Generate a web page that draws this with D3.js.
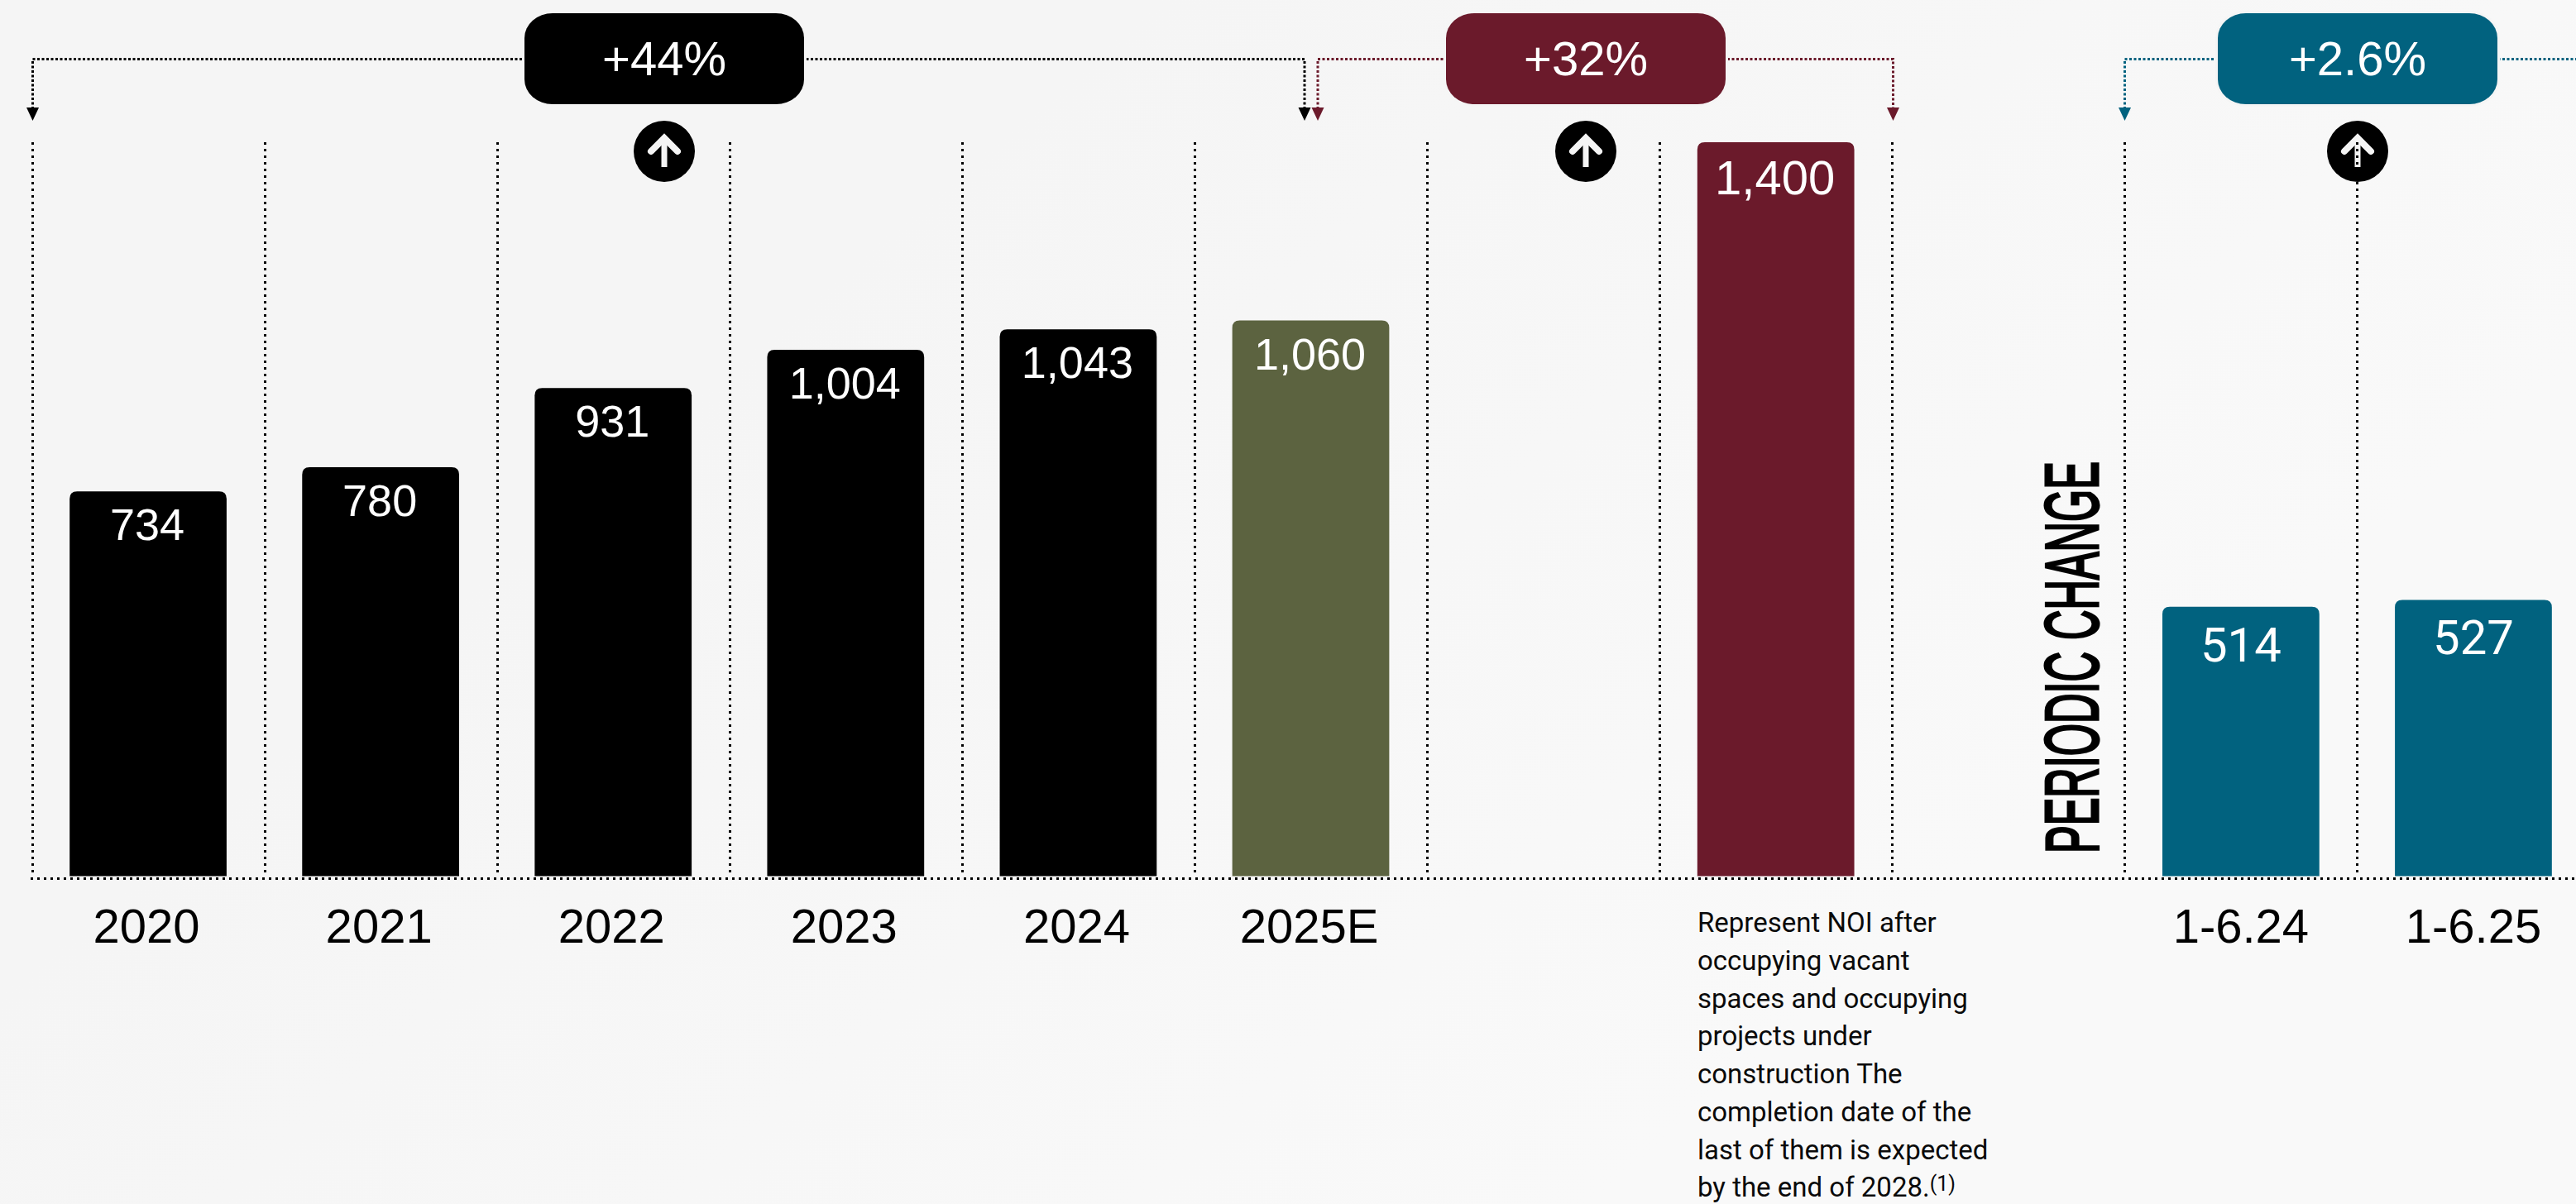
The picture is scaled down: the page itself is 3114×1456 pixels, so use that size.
<!DOCTYPE html>
<html>
<head>
<meta charset="utf-8">
<script src="https://cdn.jsdelivr.net/npm/d3@7"></script>
<style>
  html, body { margin: 0; padding: 0; background: #f5f5f5; }
  svg { display: block; }
</style>
</head>
<body>
<svg id="chart" width="3114" height="1456"></svg>
<script>
// Net operating income by period, in slot order along the axis
const slots = ["2020", "2021", "2022", "2023", "2024", "2025E", "gapA", "Full", "gapB", "1-6.24", "1-6.25"];
const categories = ["2020", "2021", "2022", "2023", "2024", "2025E", "Full", "1-6.24", "1-6.25"];
const values = [734, 780, 931, 1004, 1043, 1060, 1400, 514, 527];
const valueLabels = ["734", "780", "931", "1,004", "1,043", "1,060", "1,400", "514", "527"];
const barColors = ["#000000", "#000000", "#000000", "#000000", "#000000", "#5c6340", "#6b1a2b", "#01627f", "#01627f"];
const axisLabels = ["2020", "2021", "2022", "2023", "2024", "2025E", "1-6.24", "1-6.25"];

// Growth callouts: each pill sits on a bracket running between two periods
const growthLabels = ["+44%", "+32%", "+2.6%"];
const growthColors = ["#000000", "#6b1a2b", "#01627f"];
const growthFrom = [39.5, 1593, 2568.5];
const growthTo = [1577, 2288.5, 3114];
const growthCentre = [803, 1917, 2850];

const noteLines = [
  "Represent NOI after",
  "occupying vacant",
  "spaces and occupying",
  "projects under",
  "construction The",
  "completion date of the",
  "last of them is expected",
  "by the end of 2028."
];
const noteMark = "(1)";
const sideTitle = "PERIODIC CHANGE";

const svg = d3.select("#chart");
const W = 3114, H = 1456;
const helvetica = "'Liberation Sans', Arimo, Helvetica, Arial, sans-serif";

const defs = svg.append("defs");
const wash = defs.append("linearGradient").attr("id", "wash")
  .attr("x1", 0.45).attr("y1", 0).attr("x2", 1).attr("y2", 0.3);
wash.append("stop").attr("offset", "0").attr("stop-color", "#f5f5f5");
wash.append("stop").attr("offset", "1").attr("stop-color", "#f9f9f9");
svg.append("rect").attr("width", W).attr("height", H).attr("fill", "url(#wash)");

const x = d3.scaleBand().domain(slots).range([38.5, 3130.5]).paddingInner(0.325).paddingOuter(0.1625);
const y = d3.scaleLinear().domain([0, 1400]).range([1059.5, 172]);
const step = x.step();
const slotEdge = s => x(s) + x.bandwidth() / 2 - step / 2;

// Rounded-top bars
function barPath(left, top, width, bottom, r) {
  const p = d3.path();
  p.moveTo(left, bottom);
  p.lineTo(left, top + r);
  p.quadraticCurveTo(left, top, left + r, top);
  p.lineTo(left + width - r, top);
  p.quadraticCurveTo(left + width, top, left + width, top + r);
  p.lineTo(left + width, bottom);
  p.closePath();
  return p.toString();
}

// Arrow badges under the pills
const badges = svg.append("g");
growthCentre.forEach(cx => {
  const g = badges.append("g").attr("transform", `translate(${cx},183)`);
  g.append("circle").attr("r", 37).attr("fill", "#000");
  g.append("path").attr("d", "M0,19V-15").attr("stroke", "#f5f5f5").attr("stroke-width", 7).attr("fill", "none");
  g.append("path").attr("d", "M-16,0L0,-16L16,0").attr("stroke", "#f5f5f5").attr("stroke-width", 8)
    .attr("stroke-linecap", "round").attr("stroke-linejoin", "miter").attr("fill", "none");
});

// Dotted slot dividers
svg.append("g").selectAll("line").data(slots).join("line")
  .attr("x1", d => Math.round(slotEdge(d)) + 0.5).attr("x2", d => Math.round(slotEdge(d)) + 0.5)
  .attr("y1", y(1400)).attr("y2", y(0))
  .attr("stroke", "#000").attr("stroke-width", 3).attr("stroke-dasharray", "3 5");

// Bars
svg.append("g").selectAll("path").data(categories).join("path")
  .attr("d", (d, i) => barPath(x(d), y(values[i]), x.bandwidth(), y(0), 9))
  .attr("fill", (d, i) => barColors[i]);

// Value labels inside the bar tops; the half-year pair and the full-occupancy figure are set differently
const isHalfYear = d => d.startsWith("1-");
svg.append("g").selectAll("text").data(categories).join("text")
  .attr("x", d => x(d) + x.bandwidth() / 2 - (isHalfYear(d) ? 0 : 1))
  .attr("y", (d, i) => y(values[i]) + (isHalfYear(d) ? 66 : d === "Full" ? 63 : 59))
  .attr("text-anchor", "middle").attr("fill", "#fff")
  .attr("font-family", d => isHalfYear(d) ? "Roboto, sans-serif" : helvetica)
  .attr("font-size", d => (isHalfYear(d) || d === "Full") ? 58 : 54)
  .text((d, i) => valueLabels[i]);

// Baseline
svg.append("line").attr("x1", 37).attr("x2", W).attr("y1", 1062.5).attr("y2", 1062.5)
  .attr("stroke", "#000").attr("stroke-width", 3).attr("stroke-dasharray", "3 5");

// Category labels via the bottom axis
const axis = d3.axisBottom(x).tickValues(axisLabels).tickSize(0).tickPadding(0);
const axisG = svg.append("g").attr("transform", "translate(0,1090)").call(axis);
axisG.select(".domain").remove();
axisG.selectAll("text")
  .attr("font-family", helvetica).attr("font-size", 58).attr("fill", "#000").attr("dy", "0.86em")
  .attr("dx", d => isHalfYear(d) ? 0 : -2);

// Growth brackets and pills
growthLabels.forEach((label, i) => {
  const col = growthColors[i], y0 = 71.5, tipY = 146, cx = growthCentre[i];
  const from = growthFrom[i], to = growthTo[i];
  const bracket = d3.path();
  bracket.moveTo(from, tipY - 14);
  bracket.lineTo(from, y0);
  bracket.lineTo(to, y0);
  if (to < W) bracket.lineTo(to, tipY - 14);
  svg.append("path").attr("d", bracket.toString()).attr("fill", "none")
    .attr("stroke", col).attr("stroke-width", 3).attr("stroke-dasharray", "3 2.5");
  [from].concat(to < W ? [to] : []).forEach(ax => {
    svg.append("path").attr("d", `M${ax - 7.5},${tipY - 16}H${ax + 7.5}L${ax},${tipY}Z`).attr("fill", col);
  });
  // The halo rectangle keeps the bracket clear of the pill
  svg.append("rect").attr("x", cx - 172).attr("y", 13).attr("width", 344).attr("height", 116).attr("rx", 37).attr("ry", 33)
    .attr("fill", "#f5f5f5");
  svg.append("rect").attr("x", cx - 169).attr("y", 16).attr("width", 338).attr("height", 110).attr("rx", 34).attr("ry", 30)
    .attr("fill", col);
  svg.append("text").attr("x", cx).attr("y", 91).attr("text-anchor", "middle")
    .attr("fill", "#fff").attr("font-family", helvetica).attr("font-size", 58).text(label);
});

// Footnote under the full-occupancy bar
const note = svg.append("g").attr("font-family", "Roboto, sans-serif").attr("font-size", 33).attr("fill", "#0a0a0a");
noteLines.forEach((line, i) => {
  const t = note.append("text").attr("x", 2052).attr("y", 1127.3 + i * 45.7).text(line);
  if (i === noteLines.length - 1) {
    t.append("tspan").attr("font-size", 25).attr("dy", -7).attr("dx", 0).text(noteMark);
  }
});

// Rotated section title
svg.append("text")
  .attr("transform", "translate(2536,1032) rotate(-90)")
  .attr("font-family", "'Liberation Sans Narrow', 'Liberation Sans', sans-serif")
  .attr("font-size", 90).attr("fill", "#000").attr("stroke", "#000").attr("stroke-width", 3.2)
  .attr("textLength", 474).attr("lengthAdjust", "spacingAndGlyphs")
  .text(sideTitle);
</script>
</body>
</html>
